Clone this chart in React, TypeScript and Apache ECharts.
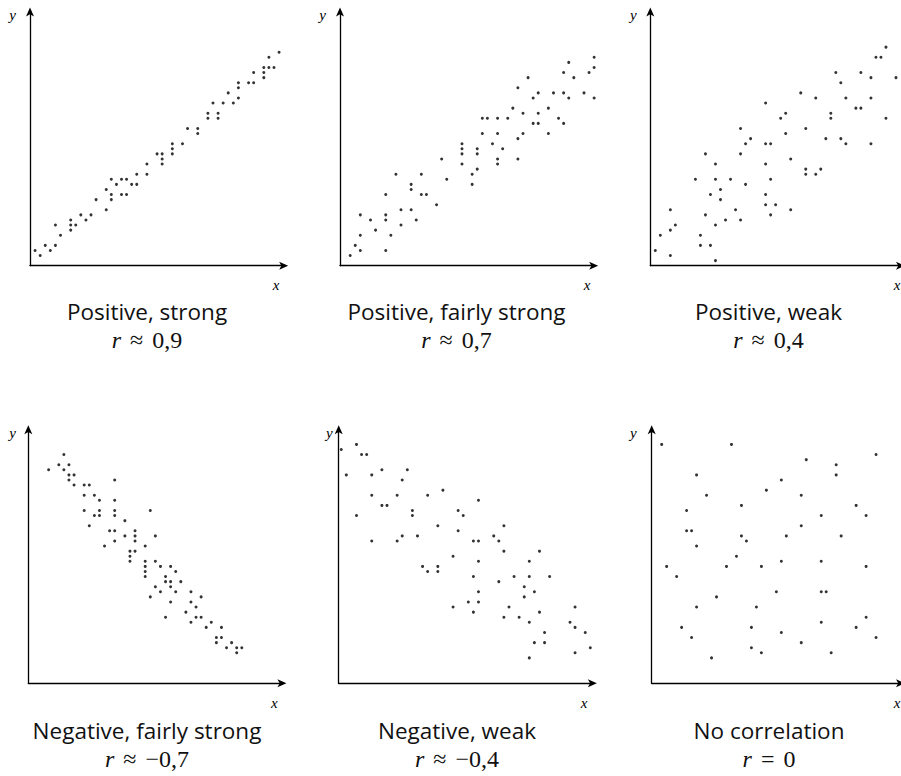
import React, { useEffect, useRef } from "react";
import * as echarts from "echarts";

// Data points on a 0..50 grid (x, y)
const positiveStrong: number[][] = [
  [1,3],[2,2],[3,4],[4,3],[5,4],[5,8],[6,6],[8,9],[8,8],[8,7],[9,8],[10,10],[11,9],[12,10],
  [13,13],[15,11],[15,15],[16,17],[16,14],[16,13],[17,16],[18,17],[18,14],[19,17],[19,14],
  [20,16],[21,16],[21,18],[23,20],[23,18],[25,22],[26,22],[26,21],[26,20],[28,24],[28,23],
  [28,22],[30,24],[31,27],[33,27],[33,26],[35,30],[35,29],[36,32],[37,30],[37,29],[38,32],
  [39,34],[40,32],[41,36],[41,35],[41,33],[43,36],[44,36],[44,38],[46,39],[46,38],[46,37],
  [47,41],[47,39],[48,39],[49,42],
];
const positiveFairly: number[][] = [
  [2,2],[3,4],[4,3],[4,6],[4,10],[6,9],[7,7],[9,3],[9,9],[9,10],[9,14],[10,6],[11,18],[12,8],
  [12,11],[14,11],[14,15],[14,16],[15,9],[16,14],[16,18],[17,14],[19,12],[20,21],[21,17],
  [24,20],[24,22],[24,23],[24,24],[26,16],[26,18],[27,19],[27,22],[27,23],[28,26],[28,29],
  [29,29],[30,24],[31,20],[31,21],[31,26],[31,29],[32,23],[33,29],[34,31],[35,21],[35,25],
  [35,35],[36,26],[36,30],[37,37],[38,28],[38,33],[39,28],[39,30],[39,34],[41,26],[41,31],
  [42,34],[43,29],[44,28],[44,34],[44,38],[45,33],[45,40],[46,37],[48,34],[49,38],[50,33],
  [50,39],[50,41],
];
const positiveWeak: number[][] = [
  [1,3],[2,6],[4,2],[4,7],[4,11],[5,8],[9,17],[10,6],[10,4],[11,10],[11,22],[12,14],[12,4],
  [13,1],[13,8],[13,17],[13,20],[14,15],[14,13],[15,9],[16,17],[17,11],[18,9],[18,22],[18,27],
  [19,16],[19,24],[20,25],[23,32],[23,24],[23,20],[23,14],[23,12],[24,24],[24,17],[24,10],
  [25,12],[26,29],[27,30],[27,26],[28,21],[28,11],[30,34],[31,27],[31,19],[31,18],[33,33],
  [33,18],[34,19],[35,25],[36,30],[36,29],[37,38],[38,36],[38,25],[39,33],[39,24],[41,31],
  [42,31],[42,38],[44,37],[44,33],[44,24],[45,41],[46,41],[47,43],[47,29],[49,37],
];
const negativeFairly: number[][] = [
  [4,42],[6,43],[7,45],[7,42],[8,43],[8,41],[8,40],[9,41],[9,39],[11,39],[11,37],[11,34],
  [12,39],[12,31],[13,37],[13,33],[14,36],[14,34],[14,33],[15,27],[16,30],[17,40],[17,36],
  [17,34],[17,33],[17,30],[17,28],[19,32],[19,29],[20,26],[20,25],[20,24],[21,30],[21,29],
  [21,28],[21,26],[23,27],[23,24],[23,23],[23,22],[23,21],[24,34],[24,17],[25,29],[25,24],
  [25,19],[26,23],[26,18],[27,21],[27,20],[27,13],[28,23],[28,20],[28,19],[28,16],[29,22],
  [29,18],[30,20],[31,14],[32,18],[32,16],[32,12],[33,15],[33,13],[34,17],[34,13],[35,11],
  [36,12],[37,9],[37,8],[38,11],[38,9],[39,7],[40,8],[41,7],[41,6],[42,7],
];
const negativeWeak: number[][] = [
  [1,46],[2,41],[4,47],[4,33],[5,45],[6,45],[7,41],[7,37],[7,28],[9,42],[9,35],[10,35],
  [12,37],[12,28],[13,40],[13,29],[14,42],[15,34],[15,33],[16,29],[17,23],[18,37],[18,22],
  [20,31],[20,23],[20,22],[21,38],[23,25],[23,15],[24,34],[24,30],[25,33],[26,16],[27,28],
  [27,21],[27,14],[28,36],[28,28],[28,24],[28,18],[28,16],[31,29],[32,28],[32,20],[33,31],
  [33,26],[33,13],[34,15],[35,21],[36,13],[37,19],[37,17],[38,24],[38,21],[38,12],[38,5],
  [39,18],[39,8],[40,26],[40,14],[41,10],[41,8],[42,21],[46,12],[47,15],[47,11],[47,6],
  [49,10],[50,7],[51,5],
];
const noCorrelation: number[][] = [
  [2,47],[3,23],[5,21],[6,11],[7,34],[7,30],[8,30],[8,9],[9,41],[9,27],[9,15],[11,37],[12,5],
  [13,17],[15,23],[16,47],[17,25],[18,35],[18,29],[19,28],[20,11],[20,7],[21,15],[22,23],
  [22,6],[23,38],[25,18],[26,40],[26,24],[26,10],[27,29],[30,37],[30,31],[30,8],[31,44],
  [34,33],[34,24],[34,18],[34,12],[35,18],[36,6],[37,43],[37,41],[38,29],[41,35],[41,11],
  [43,33],[43,23],[43,13],[45,45],[45,9],
];

const titles: string[] = [
  "Positive, strong",
  "Positive, fairly strong",
  "Positive, weak",
  "Negative, fairly strong",
  "Negative, weak",
  "No correlation",
];
const relations: string[] = ["≈", "≈", "≈", "≈", "≈", "="];
const coefficients: string[] = ["0,9", "0,7", "0,4", "−0,7", "−0,4", "0"];
const seriesData: number[][][] = [
  positiveStrong, positiveFairly, positiveWeak, negativeFairly, negativeWeak, noCorrelation,
];

// layout
const UNIT = 5.083;
const SPAN = 50;
const origins = [
  { x: 30, y: 265.7, xMin: 0 },
  { x: 340, y: 265.7, xMin: 0 },
  { x: 650.3, y: 265.7, xMin: 0 },
  { x: 28.3, y: 683.3, xMin: 0 },
  { x: 338.7, y: 683.3, xMin: 0.5 },
  { x: 651.7, y: 683.3, xMin: 0 },
];
const yLabelPos = [
  [12.7, 15], [322.7, 15], [633.3, 15], [12.7, 433], [329.3, 433], [633.3, 433],
];
const xLabelPos = [
  [276, 285], [587, 285], [897, 285], [274.3, 702.7], [584, 702.7], [897, 702.7],
];
const titleCenters = [
  [147, 311], [456.5, 311], [768.5, 311], [147, 730], [457, 730], [769, 730],
];
const MATH_OFFSET = 29;

const SERIF = "'Liberation Serif', 'DejaVu Serif', serif";
const MATH_SIZE = 24;
const TITLE_SIZE = 22.5;

function measure(text: string, font: string): number {
  const c = document.createElement("canvas").getContext("2d");
  if (!c) return text.length * 12;
  c.font = font;
  return c.measureText(text).width;
}

export default function App() {
  const ref = useRef<HTMLDivElement>(null);
  useEffect(() => {
    document.body.style.margin = "0";
    if (!ref.current) return;
    const chart = echarts.init(ref.current, undefined, { renderer: "svg" });
    const L = SPAN * UNIT;
    const grids = origins.map((o) => ({
      left: o.x,
      top: o.y - L,
      width: L,
      height: L,
      containLabel: false,
    }));
    const axisCommon = {
      type: "value" as const,
      axisLine: {
        show: true,
        onZero: false,
        symbol: ["none", "arrow"],
        symbolSize: [6, 9],
        symbolOffset: [0, 4],
        lineStyle: { color: "#000", width: 1.3 },
      },
      axisTick: { show: false },
      axisLabel: { show: false },
      splitLine: { show: false },
    };
    const xAxes = origins.map((o, i) => ({
      ...axisCommon,
      gridIndex: i,
      min: o.xMin,
      max: o.xMin + SPAN,
    }));
    const yAxes = origins.map((_, i) => ({
      ...axisCommon,
      gridIndex: i,
      min: 0,
      max: SPAN,
    }));
    const series = seriesData.map((d, i) => ({
      type: "scatter" as const,
      xAxisIndex: i,
      yAxisIndex: i,
      data: d,
      symbol: "circle",
      symbolSize: 3,
      itemStyle: { color: "#000" },
      silent: true,
    }));
    const graphics: any[] = [];
    const italicFont = `italic ${MATH_SIZE}px 'Liberation Serif'`;
    const uprightFont = `${MATH_SIZE}px 'Liberation Serif'`;
    const gap = 9;
    for (let i = 0; i < 6; i++) {
      graphics.push({
        type: "text",
        x: yLabelPos[i][0],
        y: yLabelPos[i][1],
        style: {
          text: "y",
          fontFamily: SERIF,
          fontStyle: "italic",
          fontSize: 15,
          fill: "#000",
          align: "center",
          verticalAlign: "middle",
        },
      });
      graphics.push({
        type: "text",
        x: xLabelPos[i][0],
        y: xLabelPos[i][1],
        style: {
          text: "x",
          fontFamily: SERIF,
          fontStyle: "italic",
          fontSize: 15,
          fill: "#000",
          align: "center",
          verticalAlign: "middle",
        },
      });
      graphics.push({
        type: "text",
        x: titleCenters[i][0],
        y: titleCenters[i][1],
        style: {
          text: titles[i],
          fontFamily: "'Open Sans', sans-serif",
          fontSize: TITLE_SIZE,
          lineHeight: 22,
          fontWeight: "normal",
          fill: "#111",
          align: "center",
          verticalAlign: "middle",
        },
      });
      // math line: r, relation, value as separate pieces laid out left to right
      const rW = measure("r", italicFont);
      const sW = measure(relations[i], uprightFont);
      const nW = measure(coefficients[i], uprightFont);
      const total = rW + gap + sW + gap + nW;
      let x0 = titleCenters[i][0] - total / 2;
      const yM = titleCenters[i][1] + MATH_OFFSET;
      const pieces = [
        { t: "r", italic: true, w: rW },
        { t: relations[i], italic: false, w: sW },
        { t: coefficients[i], italic: false, w: nW },
      ];
      pieces.forEach((p) => {
        graphics.push({
          type: "text",
          x: x0,
          y: yM,
          style: {
            text: p.t,
            fontFamily: SERIF,
            fontStyle: p.italic ? "italic" : "normal",
            fontSize: MATH_SIZE,
            lineHeight: 22,
            fill: "#111",
            align: "left",
            verticalAlign: "middle",
          },
        });
        x0 += p.w + gap;
      });
    }
    chart.setOption({
      animation: false,
      backgroundColor: "#fff",
      grid: grids,
      xAxis: xAxes,
      yAxis: yAxes,
      series,
      graphic: graphics,
    });
    return () => chart.dispose();
  }, []);
  return <div ref={ref} style={{ width: 901, height: 776 }} />;
}
